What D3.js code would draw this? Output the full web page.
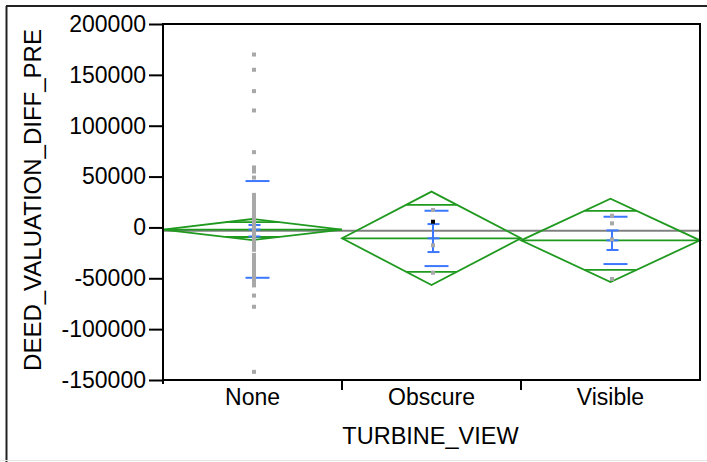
<!DOCTYPE html>
<html><head><meta charset="utf-8">
<script src="https://cdn.jsdelivr.net/npm/d3@7"></script>
<style>
body{margin:0;background:#fff}
svg{display:block}
text{font-family:"Liberation Sans",Arial,sans-serif;fill:#000}
</style>
</head><body>
<svg id="c" width="707" height="462"></svg>
<script>
// ---- data ----
const categories = ["None", "Obscure", "Visible"];
const yTicks = [-150000, -100000, -50000, 0, 50000, 100000, 150000, 200000];
const xTitle = "TURBINE_VIEW";
const yTitle = "DEED_VALUATION_DIFF_PRE";

const noneValues = [170000, 155000, 134000, 115000, 74000, 59000, 57000, 55000, 49000,
  32000, 30000, 28000, 26000, 24000, 22000, 20000, 18000, 16000, 14000, 12000, 10000,
  8000, 6000, 4000, 2000, 1000, 0, -1000, -2000, -3000, -4000, -6000, -8000, -10000,
  -12000, -14000, -16000, -18000, -20000, -22000, -27000, -30000, -33000, -36000,
  -39000, -42000, -45000, -48000, -51000, -54000, -57000, -67000, -78000, -142000];
const obscureValues = [17100, -17600, -44500];
const obscureBlackValues = [5600];
const visibleValues = [11500, 4000, -11700, -50700];

const grandMean = -3200;
const groupMeans = [-2100, -10700, -12700];
const diamondHalf = [10400, 45900, 40900];   // CI half-height of means diamonds
const overlapHalf = [7300, 32900, 29000];    // overlap marks offset
const sdUpper = [45600, 16400, 10500];
const sdLower = [-49500, -38000, -36000];
const seUpper = [2400, 3300, -2900];
const seLower = [-8900, -24200, -22200];

// ---- drawing ----
const svg = d3.select("#c");
const L = 163, R = 700, T = 24, B = 380;
const x = d3.scaleBand().domain(categories).range([L, R]).padding(0);
const y = d3.scaleLinear().domain([-150000, 200000]).range([B, T]);
const GREEN = "#1f9a1f", BLUE = "#3b78ff", PT = "#a8a8a8";
const FONT = "Liberation Sans, Arial, sans-serif";

// outer frame
svg.append("line").attr("x1", 6).attr("x2", 707).attr("y1", 6).attr("y2", 6)
  .attr("stroke", "#222").attr("stroke-width", 2);
svg.append("line").attr("x1", 6.5).attr("x2", 6.5).attr("y1", 6).attr("y2", 462)
  .attr("stroke", "#222").attr("stroke-width", 2);
svg.append("line").attr("x1", 0).attr("x2", 707).attr("y1", 460.5).attr("y2", 460.5)
  .attr("stroke", "#e6e6e6").attr("stroke-width", 1);

const plot = svg.append("g");

// grand mean line
plot.append("line").attr("x1", L).attr("x2", R)
  .attr("y1", y(grandMean)).attr("y2", y(grandMean))
  .attr("stroke", "#808080").attr("stroke-width", 2);

// means diamonds
categories.forEach((c, i) => {
  const x0 = x(c), x1 = x(c) + x.bandwidth(), xc = x0 + x.bandwidth() / 2;
  const m = groupMeans[i], h = diamondHalf[i], o = overlapHalf[i];
  const g = plot.append("g").attr("stroke", GREEN).attr("stroke-width", 1.8).attr("fill", "none");
  g.append("path").attr("d", `M${x0},${y(m)}L${xc},${y(m + h)}L${x1},${y(m)}L${xc},${y(m - h)}Z`);
  g.append("line").attr("x1", x0).attr("x2", x1).attr("y1", y(m)).attr("y2", y(m));
  const w = x.bandwidth() / 2 * (1 - o / h);
  [m + o, m - o].forEach(v => g.append("line").attr("x1", xc - w).attr("x2", xc + w)
    .attr("y1", y(v)).attr("y2", y(v)));
});

// std dev lines and mean error bars
categories.forEach((c, i) => {
  const xc = x(c) + x.bandwidth() / 2;
  const g = plot.append("g").attr("stroke", BLUE).attr("stroke-width", 2);
  [sdUpper[i], sdLower[i]].forEach(v => g.append("line")
    .attr("x1", xc - 7).attr("x2", xc + 17).attr("y1", y(v)).attr("y2", y(v)));
  const ex = xc + 1.5;
  g.append("line").attr("x1", ex).attr("x2", ex).attr("y1", y(seUpper[i])).attr("y2", y(seLower[i]));
  [seUpper[i], seLower[i], groupMeans[i]].forEach(v => g.append("line")
    .attr("x1", ex - 5.5).attr("x2", ex + 6.5).attr("y1", y(v)).attr("y2", y(v)));
});

// points
const groups = [noneValues, obscureValues, visibleValues];
categories.forEach((c, i) => {
  const xc = x(c) + x.bandwidth() / 2 + 1.5;
  plot.selectAll(null).data(groups[i]).enter().append("rect")
    .attr("x", xc - 2).attr("y", d => y(d) - 2).attr("width", 4).attr("height", 4)
    .attr("fill", PT);
});
plot.selectAll(null).data(obscureBlackValues).enter().append("rect")
  .attr("x", x("Obscure") + x.bandwidth() / 2 - 0.5).attr("y", d => y(d) - 2)
  .attr("width", 4).attr("height", 4).attr("fill", "#000");

// frame
svg.append("rect").attr("x", L).attr("y", T).attr("width", R - L).attr("height", B - T)
  .attr("fill", "none").attr("stroke", "#000").attr("stroke-width", 2);

// y axis
const ya = svg.append("g").attr("transform", `translate(${L},0)`)
  .call(d3.axisLeft(y).tickValues(yTicks).tickSize(14).tickPadding(3)
    .tickFormat(d => String(d)));
ya.select(".domain").remove();
ya.selectAll(".tick line").attr("stroke", "#000").attr("stroke-width", 2);
ya.selectAll(".tick text").attr("font-size", 23).attr("font-family", FONT).attr("fill", "#000");

// x axis labels
const xa = svg.append("g").attr("transform", `translate(0,${B})`)
  .call(d3.axisBottom(x).tickSize(0).tickPadding(9));
xa.select(".domain").remove();
xa.selectAll(".tick text").attr("font-size", 23).attr("font-family", FONT).attr("fill", "#000");
// boundary ticks between categories
const bounds = categories.slice(1).map(c => x(c)).concat([L]);
svg.selectAll(null).data(bounds).enter().append("line")
  .attr("x1", d => d).attr("x2", d => d).attr("y1", B).attr("y2", d => d === L ? B + 4 : B + 10)
  .attr("stroke", "#000").attr("stroke-width", 2);

// titles
svg.append("text").attr("x", (L + R) / 2 - 1).attr("y", 444).attr("text-anchor", "middle")
  .attr("font-size", 23.5).text(xTitle);
svg.append("text").attr("transform", `translate(41,${(T + B) / 2 - 2}) rotate(-90)`)
  .attr("text-anchor", "middle").attr("font-size", 24).text(yTitle);
</script>
</body></html>
